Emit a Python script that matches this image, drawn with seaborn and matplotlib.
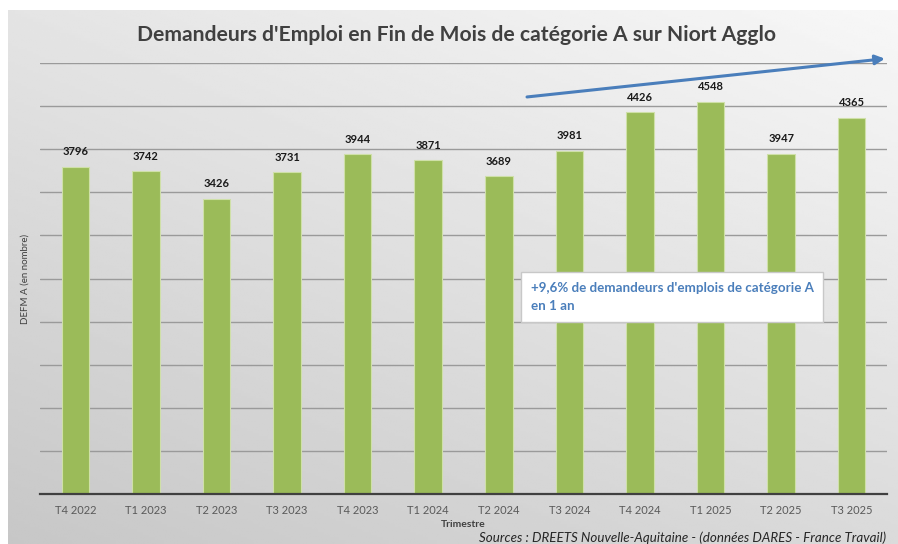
import numpy as np
import pandas as pd
import matplotlib
matplotlib.use("Agg")
import matplotlib.pyplot as plt
import seaborn as sns

# Data
trimestres = ["T4 2022", "T1 2023", "T2 2023", "T3 2023", "T4 2023", "T1 2024",
              "T2 2024", "T3 2024", "T4 2024", "T1 2025", "T2 2025", "T3 2025"]
defm_a = [3796, 3742, 3426, 3731, 3944, 3871, 3689, 3981, 4426, 4548, 3947, 4365]

df = pd.DataFrame({"Trimestre": trimestres, "DEFM": defm_a})

sns.set_theme(style="white")
plt.rcParams["font.family"] = ["Lato", "DejaVu Sans"]

fig = plt.figure(figsize=(8.98, 5.44), dpi=100)
fig.patch.set_facecolor("white")

# grey gradient background (Excel style), starting a few px in from top-left
bg = fig.add_axes([8 / 898, 0, 1 - 8 / 898, 1 - 10 / 544], zorder=-10)
yy, xx = np.mgrid[0:1:200j, 0:1:300j]
shade = 0.78 + 0.19 * (0.6 * yy + 0.4 * xx)
bg.imshow(shade, cmap="gray", vmin=0, vmax=1, aspect="auto", origin="lower",
          extent=[0, 1, 0, 1])
bg.axis("off")

ax = fig.add_axes([40 / 898, 1 - 494 / 544, 847 / 898, 431 / 544])
ax.patch.set_alpha(0)

sns.barplot(data=df, x="Trimestre", y="DEFM", color="#9bbb59", width=0.39,
            saturation=1, edgecolor="#cfe0a8", linewidth=0.8, ax=ax, zorder=3)

ax.set_ylim(0, 5000)
ax.set_yticks(np.arange(0, 5001, 500))
ax.set_yticklabels([])
ax.yaxis.grid(True, color="#9a9a9a", linewidth=1)
ax.set_axisbelow(True)
for s in ["top", "right", "left"]:
    ax.spines[s].set_visible(False)
ax.spines["bottom"].set_color("#404040")
ax.spines["bottom"].set_linewidth(1.6)
ax.spines["bottom"].set_zorder(4)
ax.tick_params(axis="both", length=0)
ax.tick_params(axis="x", labelsize=8, labelcolor="#595959", pad=8)

ax.set_xlabel("Trimestre", fontsize=7.5, fontweight="bold", color="#404040", labelpad=3)
ax.set_ylabel("DEFM A (en nombre)", fontsize=7, color="#404040", labelpad=4)

for i, v in enumerate(defm_a):
    ax.text(i, v + 110, str(v), ha="center", va="bottom", fontsize=8,
            fontweight="bold", color="#1a1a1a")

fig.text(457 / 898, 1 - 35 / 544,
         "Demandeurs d'Emploi en Fin de Mois de catégorie A sur Niort Agglo",
         ha="center", va="center", fontsize=15.2, fontweight="bold", color="#404040")

# trend arrow
ax.annotate("", xy=(11.47, 5050), xytext=(6.4, 4606), annotation_clip=False,
            arrowprops=dict(arrowstyle="-|>", color="#4a7ebb", lw=2.2,
                            mutation_scale=14, shrinkA=0, shrinkB=0))

ax.text(6.45, 2280, "+9,6% de demandeurs d'emplois de catégorie A\nen 1 an",
        ha="left", va="center", fontsize=9.6, fontweight="bold", color="#4a7ebb",
        linespacing=1.6, zorder=6,
        bbox=dict(boxstyle="square,pad=0.75", facecolor="white", edgecolor="#c8c8c8"))

fig.text(886 / 898, 1 - 538 / 544,
         "Sources : DREETS Nouvelle-Aquitaine - (données DARES - France Travail)",
         ha="right", va="center", fontsize=9.6, fontstyle="italic", color="#262626")

fig.savefig("out.png", dpi=100)
